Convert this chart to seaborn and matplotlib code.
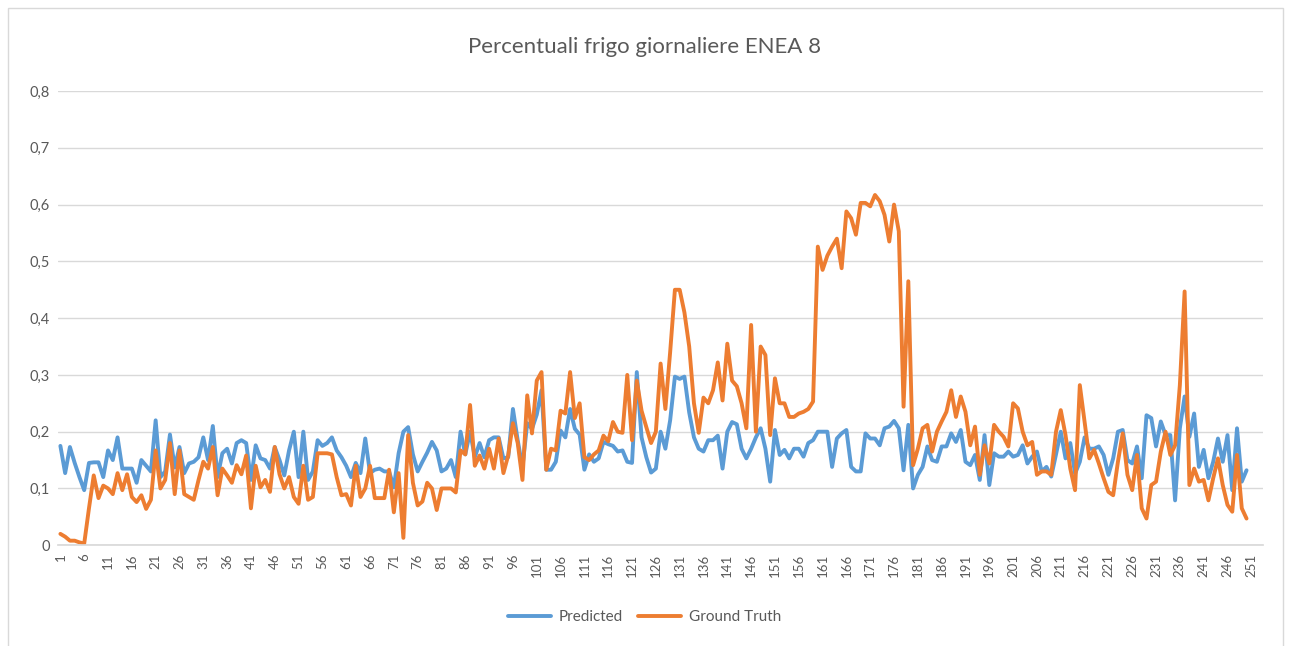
import numpy as np
import pandas as pd
import matplotlib
matplotlib.use("Agg")
import matplotlib.pyplot as plt
from matplotlib.patches import Rectangle
import seaborn as sns

# daily fridge share, predicted vs ground truth
predicted = [
    0.175, 0.127, 0.173, 0.145, 0.12, 0.097, 0.145, 0.146, 0.146, 0.12,
    0.167, 0.15, 0.19, 0.135, 0.135, 0.135, 0.11, 0.15, 0.14, 0.13,
    0.22, 0.12, 0.13, 0.195, 0.137, 0.173, 0.127, 0.144, 0.147, 0.155,
    0.19, 0.15, 0.21, 0.12, 0.162, 0.17, 0.144, 0.18, 0.185, 0.18,
    0.115, 0.176, 0.153, 0.15, 0.135, 0.173, 0.15, 0.123, 0.167, 0.2,
    0.12, 0.2, 0.115, 0.13, 0.185, 0.175, 0.18, 0.19, 0.167, 0.155,
    0.14, 0.12, 0.145, 0.127, 0.188, 0.127, 0.133, 0.135, 0.13, 0.13,
    0.102, 0.162, 0.2, 0.208, 0.16, 0.13, 0.147, 0.163, 0.182, 0.167,
    0.13, 0.135, 0.15, 0.12, 0.2, 0.16, 0.2, 0.155, 0.18, 0.155,
    0.185, 0.19, 0.19, 0.153, 0.155, 0.24, 0.185, 0.137, 0.215, 0.205,
    0.23, 0.273, 0.133, 0.133, 0.147, 0.202, 0.19, 0.24, 0.205, 0.195,
    0.133, 0.16, 0.147, 0.153, 0.182, 0.178, 0.175, 0.165, 0.167, 0.147,
    0.145, 0.305, 0.19, 0.155, 0.128, 0.135, 0.2, 0.17, 0.22, 0.297,
    0.293, 0.297, 0.234, 0.19, 0.17, 0.165, 0.185, 0.185, 0.193, 0.135,
    0.2, 0.217, 0.213, 0.17, 0.153, 0.17, 0.19, 0.206, 0.17, 0.112,
    0.203, 0.159, 0.168, 0.153, 0.17, 0.17, 0.156, 0.18, 0.185, 0.2,
    0.2, 0.2, 0.138, 0.188, 0.197, 0.203, 0.138, 0.13, 0.13, 0.197,
    0.188, 0.188, 0.176, 0.206, 0.209, 0.219, 0.206, 0.132, 0.212, 0.1,
    0.124, 0.138, 0.174, 0.15, 0.147, 0.174, 0.174, 0.197, 0.182, 0.203,
    0.147, 0.141, 0.159, 0.115, 0.194, 0.106, 0.162, 0.156, 0.156, 0.165,
    0.156, 0.159, 0.176, 0.144, 0.156, 0.165, 0.13, 0.138, 0.121, 0.16,
    0.2, 0.153, 0.18, 0.126, 0.147, 0.19, 0.17, 0.17, 0.174, 0.159,
    0.124, 0.153, 0.2, 0.203, 0.15, 0.144, 0.174, 0.118, 0.229, 0.224,
    0.174, 0.218, 0.194, 0.194, 0.079, 0.206, 0.262, 0.191, 0.232, 0.138,
    0.168, 0.118, 0.147, 0.188, 0.147, 0.194, 0.097, 0.206, 0.112, 0.132,
]

ground_truth = [
    0.02, 0.015, 0.008, 0.008, 0.005, 0.003, 0.065, 0.123, 0.083, 0.105,
    0.1, 0.09, 0.127, 0.097, 0.125, 0.085, 0.076, 0.088, 0.064, 0.08,
    0.167, 0.1, 0.115, 0.18, 0.09, 0.167, 0.09, 0.085, 0.08, 0.115,
    0.147, 0.135, 0.173, 0.088, 0.135, 0.123, 0.11, 0.141, 0.125, 0.158,
    0.065, 0.14, 0.102, 0.115, 0.094, 0.173, 0.125, 0.1, 0.12, 0.085,
    0.073, 0.14, 0.08, 0.085, 0.162, 0.162, 0.162, 0.16, 0.12, 0.088,
    0.09, 0.07, 0.14, 0.085, 0.1, 0.14, 0.083, 0.083, 0.083, 0.133,
    0.058, 0.127, 0.013, 0.194, 0.11, 0.07, 0.077, 0.11, 0.1, 0.062,
    0.1, 0.1, 0.1, 0.093, 0.167, 0.16, 0.247, 0.14, 0.158, 0.135,
    0.17, 0.135, 0.188, 0.127, 0.158, 0.215, 0.18, 0.115, 0.264, 0.197,
    0.29, 0.305, 0.133, 0.17, 0.167, 0.237, 0.232, 0.305, 0.224, 0.25,
    0.155, 0.15, 0.16, 0.167, 0.193, 0.183, 0.217, 0.2, 0.198, 0.3,
    0.185, 0.29, 0.237, 0.208, 0.18, 0.2, 0.32, 0.24, 0.34, 0.45,
    0.45, 0.41, 0.35, 0.25, 0.198, 0.26, 0.25, 0.273, 0.322, 0.255,
    0.355, 0.29, 0.28, 0.25, 0.206, 0.388, 0.2, 0.35, 0.335, 0.194,
    0.294, 0.25, 0.25, 0.226, 0.226, 0.232, 0.235, 0.24, 0.253, 0.526,
    0.485, 0.51, 0.526, 0.54, 0.488, 0.588, 0.576, 0.547, 0.603, 0.603,
    0.597, 0.617, 0.606, 0.582, 0.535, 0.6, 0.553, 0.244, 0.465, 0.141,
    0.17, 0.206, 0.212, 0.165, 0.2, 0.218, 0.235, 0.273, 0.226, 0.262,
    0.235, 0.176, 0.209, 0.124, 0.176, 0.144, 0.212, 0.2, 0.191, 0.174,
    0.25, 0.241, 0.2, 0.176, 0.182, 0.124, 0.13, 0.13, 0.124, 0.2,
    0.238, 0.194, 0.135, 0.097, 0.282, 0.218, 0.153, 0.168, 0.144, 0.118,
    0.094, 0.088, 0.147, 0.197, 0.124, 0.097, 0.159, 0.065, 0.047, 0.106,
    0.112, 0.165, 0.2, 0.159, 0.176, 0.282, 0.447, 0.106, 0.135, 0.112,
    0.115, 0.079, 0.118, 0.153, 0.106, 0.071, 0.059, 0.159, 0.065, 0.047,
]

days = np.arange(1, len(predicted) + 1)
n_categories = 253
tick_labels = [str(d) for d in range(1, n_categories, 5)]
y_ticks = [0, 0.1, 0.2, 0.3, 0.4, 0.5, 0.6, 0.7, 0.8]

df = pd.DataFrame({
    "giorno": np.concatenate([days, days]),
    "valore": predicted + ground_truth,
    "serie": ["Predicted"] * len(days) + ["Ground Truth"] * len(days),
})

sns.set_theme(style="white")
plt.rcParams["font.family"] = ["Lato", "DejaVu Sans"]
grey = "#595959"
blue, orange = "#5B9BD5", "#ED7D31"

fig = plt.figure(figsize=(12.89, 6.46), dpi=100)
ax = fig.add_axes([0.045, 0.156, 0.935, 0.703])

sns.lineplot(data=df, x="giorno", y="valore", hue="serie",
             palette=[blue, orange], linewidth=2.8, ax=ax, legend=False)

ax.set_xlim(0.5, n_categories + 0.5)
ax.set_ylim(0, 0.8)
ax.set_yticks(y_ticks)
ax.set_yticklabels(["0"] + [f"{v:.1f}".replace(".", ",") for v in y_ticks[1:]],
                   color=grey, fontsize=10.5)
ax.set_xticks(range(1, n_categories, 5))
ax.set_xticklabels(tick_labels, rotation=90, color=grey, fontsize=9.5)
ax.tick_params(axis="both", length=0, pad=6)
ax.yaxis.grid(True, color="#D9D9D9", linewidth=1)
ax.set_axisbelow(True)
for side in ["top", "right", "left"]:
    ax.spines[side].set_visible(False)
ax.spines["bottom"].set_color("#D9D9D9")
ax.set_xlabel("")
ax.set_ylabel("")

fig.text(0.5, 1 - 47 / 646, "Percentuali frigo giornaliere ENEA 8",
         ha="center", va="center", fontsize=16, color=grey)

handles = [plt.Line2D([], [], color=blue, linewidth=2.8),
           plt.Line2D([], [], color=orange, linewidth=2.8)]
fig.legend(handles, ["Predicted", "Ground Truth"], loc="center",
           bbox_to_anchor=(0.5, 1 - 617 / 646), ncol=2, frameon=False,
           fontsize=11, labelcolor=grey, handlelength=2.8, handletextpad=0.5,
           columnspacing=1.0)

fig.patches.append(Rectangle((8 / 1289, -0.01), 1275 / 1289, 1 - 8 / 646 + 0.01,
                             transform=fig.transFigure, fill=False,
                             edgecolor="#D9D9D9", linewidth=1))

fig.savefig("out.png", dpi=100)
